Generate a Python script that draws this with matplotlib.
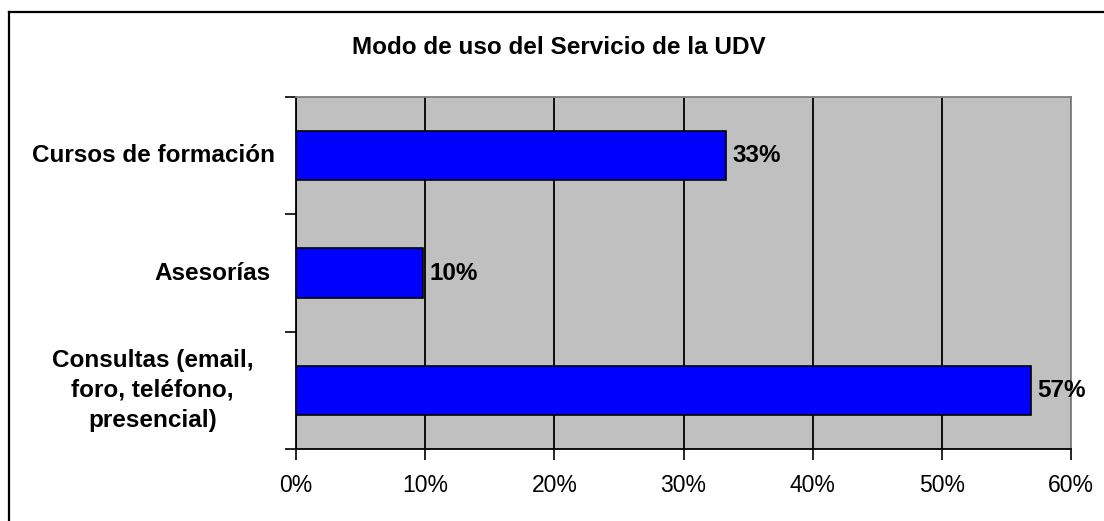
import matplotlib
matplotlib.use("Agg")
import matplotlib.pyplot as plt
from matplotlib.lines import Line2D

plt.rcParams['font.family'] = ['Liberation Sans', 'DejaVu Sans']

categorias = ['Consultas (email,\nforo, teléfono,\npresencial)', 'Asesorías', 'Cursos de formación']
valores = [56.9, 9.8, 33.3]
etiquetas = ['57%', '10%', '33%']
xticks = [0, 10, 20, 30, 40, 50, 60]
xlabels = ['0%', '10%', '20%', '30%', '40%', '50%', '60%']

W, H = 1104, 521
fig = plt.figure(figsize=(W / 100, H / 100), dpi=100)

# marco exterior (solo se ve izquierda y arriba)
fig.add_artist(Line2D([8.5 / W, 8.5 / W], [0, 1 - 11.5 / H], color='black', lw=1.6))
fig.add_artist(Line2D([8.5 / W, 1], [1 - 11.5 / H, 1 - 11.5 / H], color='black', lw=1.6))

ax = fig.add_axes([296 / W, (H - 449) / H, 775 / W, 352 / H])
ax.set_facecolor('#C0C0C0')

pos = range(len(categorias))
ax.barh(pos, valores, height=0.42, color='#0000FF', edgecolor='black', linewidth=1.2, zorder=3)
for p, v, t in zip(pos, valores, etiquetas):
    ax.text(v + 0.5, p, t, va='center', ha='left', fontsize=17.5, fontweight='bold', zorder=4)

ax.set_xlim(0, 60)
ax.set_ylim(-0.5, 2.5)
ax.set_xticks(xticks)
ax.set_xticklabels(xlabels, fontsize=16.5)
ax.xaxis.grid(True, color='black', lw=1.3, zorder=1)
ax.set_axisbelow(True)

ax.set_yticks([-0.5, 0.5, 1.5, 2.5])
ax.set_yticklabels([])
ax.tick_params(axis='y', length=8, width=1.2, direction='out')
ax.tick_params(axis='x', length=8, width=1.2, direction='out', pad=10)

# etiquetas de categorias
ax.text(-11.1, 0, categorias[0], ha='center', va='center', fontsize=17.5, fontweight='bold',
        multialignment='center', linespacing=1.38)
ax.text(-2.0, 1, categorias[1], ha='right', va='center', fontsize=17.5, fontweight='bold')
ax.text(-1.6, 2, categorias[2], ha='right', va='center', fontsize=17.5, fontweight='bold')

for s in ['left', 'bottom']:
    ax.spines[s].set_color('black')
    ax.spines[s].set_linewidth(1.3)
for s in ['top', 'right']:
    ax.spines[s].set_color('#808080')
    ax.spines[s].set_linewidth(1.3)

fig.text(559 / W, 1 - 47 / H, 'Modo de uso del Servicio de la UDV', ha='center', va='center',
         fontsize=17.5, fontweight='bold')

fig.savefig('out.png', dpi=100)
